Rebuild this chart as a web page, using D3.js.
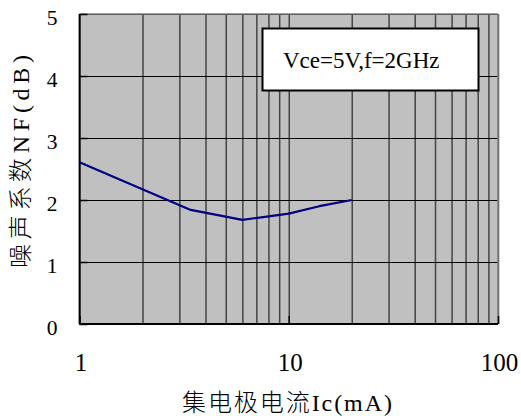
<!DOCTYPE html>
<html><head><meta charset="utf-8">
<script src="https://cdn.jsdelivr.net/npm/d3@7"></script>
<style>body{margin:0;background:#fff}svg{display:block}</style>
</head><body>
<svg id="c" width="521" height="416"></svg>
<script>
// ---- data ----
const currentMA = [1, 3.4, 6, 10, 14, 20];
const noiseFigureDB = [2.61, 1.84, 1.68, 1.78, 1.9, 2.0];
const xTickLabels = [1, 10, 100];
const yTickLabels = [0, 1, 2, 3, 4, 5];
const xGridValues = [1,2,3,4,5,6,7,8,9,10,20,30,40,50,60,70,80,90,100];
const legendText = "Vce=5V,f=2GHz";
const xTitle = "集电极电流Ic(mA)";
const yTitle = "噪声系数NF(dB)";

// ---- layout ----
const L = 79.5, R = 498, T = 14, B = 324;
const svg = d3.select("#c");
const x = d3.scaleLog().domain([1, 100]).range([L, R]);
const y = d3.scaleLinear().domain([0, 5]).range([B, T]);
const serif = "'Liberation Serif','Times New Roman','Noto Sans CJK SC',serif";

// plot background
svg.append("rect").attr("x", L).attr("y", T).attr("width", R - L).attr("height", B - T)
  .attr("fill", "#c0c0c0");

// vertical grid
svg.append("g").attr("transform", `translate(0,${B})`)
  .call(d3.axisBottom(x).tickValues(xGridValues).tickSize(-(B - T)).tickFormat(""))
  .call(g => g.select(".domain").remove())
  .call(g => g.selectAll(".tick line").attr("stroke", "#444").attr("stroke-width", 1.5));

// horizontal grid
svg.append("g").attr("transform", `translate(${L},0)`)
  .call(d3.axisLeft(y).tickValues(yTickLabels).tickSize(-(R - L)).tickFormat(""))
  .call(g => g.select(".domain").remove())
  .call(g => g.selectAll(".tick line").attr("stroke", "#000").attr("stroke-width", 1.1));

// frame: top/right gray, left/bottom black
svg.append("line").attr("x1", L).attr("x2", R).attr("y1", T).attr("y2", T)
  .attr("stroke", "#808080").attr("stroke-width", 1.5);
svg.append("line").attr("x1", R).attr("x2", R).attr("y1", T).attr("y2", B)
  .attr("stroke", "#808080").attr("stroke-width", 1.5);
svg.append("line").attr("x1", L).attr("x2", L).attr("y1", T).attr("y2", B)
  .attr("stroke", "#000").attr("stroke-width", 1.8);
svg.append("line").attr("x1", L).attr("x2", R).attr("y1", B).attr("y2", B)
  .attr("stroke", "#000").attr("stroke-width", 1.8);

// inward ticks
svg.append("g").attr("transform", `translate(${L},0)`)
  .call(d3.axisRight(y).tickValues(yTickLabels).tickSize(8).tickFormat(""))
  .call(g => g.select(".domain").remove())
  .call(g => g.selectAll(".tick line").attr("stroke", "#000").attr("stroke-width", 1.5));
svg.append("g").attr("transform", `translate(0,${B})`)
  .call(d3.axisTop(x).tickValues(xTickLabels).tickSize(8).tickFormat(""))
  .call(g => g.select(".domain").remove())
  .call(g => g.selectAll(".tick line").attr("stroke", "#000").attr("stroke-width", 1.5));

// y tick labels
svg.append("g").selectAll("text").data(yTickLabels).join("text")
  .attr("x", 57.5).attr("y", d => y(d) + 11)
  .attr("text-anchor", "end").attr("font-family", serif).attr("font-size", 21.5)
  .attr("fill", "#000").text(d => d);

// x tick labels
svg.append("g").selectAll("text").data(xTickLabels).join("text")
  .attr("x", d => x(d) + 1.5).attr("y", 371)
  .attr("text-anchor", "middle").attr("font-family", serif).attr("font-size", 25)
  .attr("fill", "#000").text(d => d);

// data line
const pts = currentMA.map((c, i) => [c, noiseFigureDB[i]]);
svg.append("path").datum(pts)
  .attr("fill", "none").attr("stroke", "#000080").attr("stroke-width", 2.2)
  .attr("stroke-linejoin", "round")
  .attr("d", d3.line().x(d => x(d[0])).y(d => y(d[1])));

// legend box
svg.append("rect").attr("x", 262.5).attr("y", 28.5).attr("width", 216).attr("height", 62)
  .attr("fill", "#fff").attr("stroke", "#000").attr("stroke-width", 2);
svg.append("text").attr("x", 283).attr("y", 68.3)
  .attr("font-family", serif).attr("font-size", 23).attr("fill", "#000").text(legendText);

// axis titles
svg.append("text").attr("x", 182).attr("y", 411)
  .attr("font-family", serif).attr("font-size", 24).attr("font-weight", 300).attr("fill", "#000")
  .attr("textLength", 210).attr("lengthAdjust", "spacing").text(xTitle);
svg.append("text").attr("transform", "translate(29,268) rotate(-90)")
  .attr("x", 0).attr("y", 0)
  .attr("font-family", serif).attr("font-size", 24).attr("font-weight", 300).attr("fill", "#000")
  .attr("textLength", 213).attr("lengthAdjust", "spacing").text(yTitle);
</script>
</body></html>
